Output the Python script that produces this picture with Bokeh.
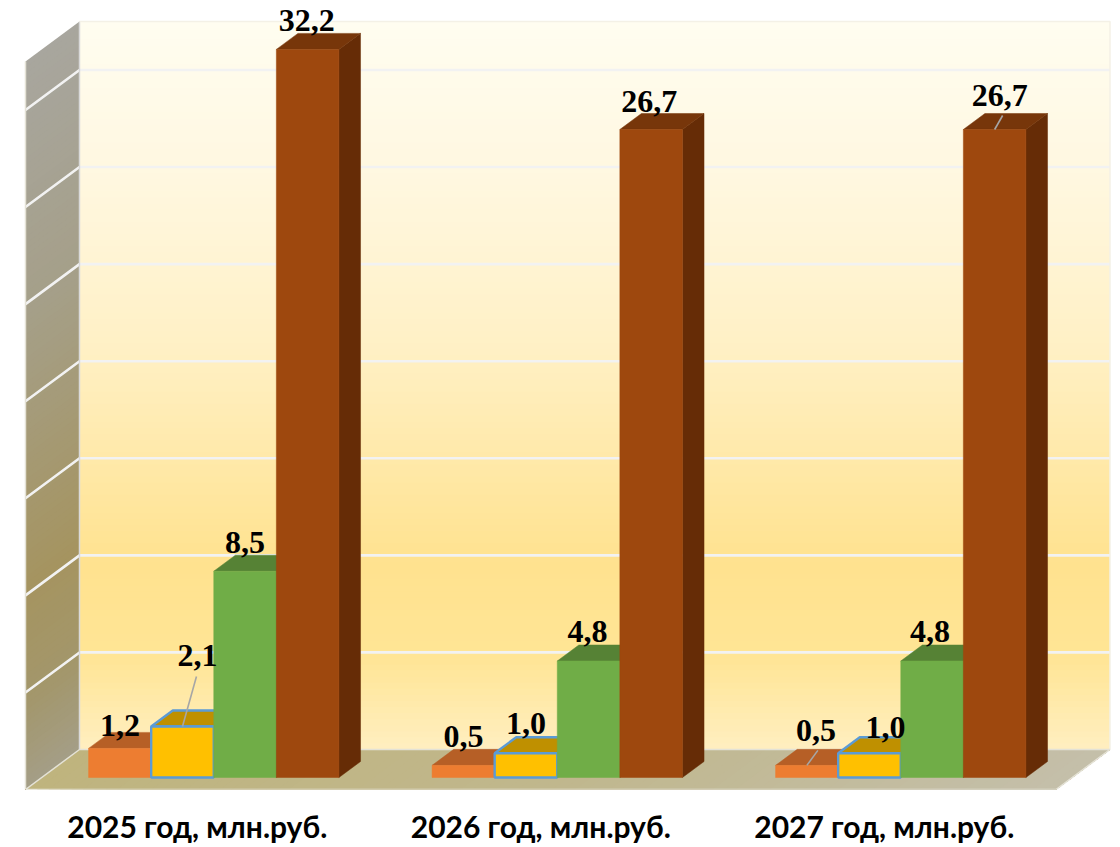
import numpy as np
from bokeh.plotting import figure
from bokeh.models import FixedTicker
from bokeh.core.properties import value
from bokeh.embed import file_html
from bokeh.resources import INLINE

# ---- data ----
categories = ["2025 год, млн.руб.", "2026 год, млн.руб.", "2027 год, млн.руб."]
series_a = [1.2, 0.5, 0.5]
series_b = [2.1, 1.0, 1.0]
series_c = [8.5, 4.8, 4.8]
series_d = [32.2, 26.7, 26.7]
axis_max = 30
grid_values = [4, 8, 12, 16, 20, 24, 28]

# ---- style ----
series_style = [
    (series_a, "#ED7D31", "#B65F26", "#8F4A1D", None),
    (series_b, "#FFC000", "#BF9000", "#8F6C00", "#5B9BD5"),
    (series_c, "#70AD47", "#568235", "#426328", None),
    (series_d, "#9E480E", "#77360A", "#662C06", None),
]
# label offsets in px from the centre of a bar's front top edge, by series then category
label_dx = [[0, 0, 9], [15, 0, 16], [0, -1, -2], [-1, -2, 5]]
label_dy = [[-23, -29, -35], [-71, -30, -26], [-29, -30, -30], [-29, -28, -34]]
# leader lines: (series, category, from-dx, from-dy) in px from the same anchor
leaders = [(1, 0, 14, -50), (0, 2, 11, -15), (3, 2, 8, -14)]

# ---- geometry of the oblique view ----
PX_X = 343.5          # px per category
PX_Y = 24.27          # px per unit of value
DEPTH_X, DEPTH_Y = 54, 40
LEFT, FLOOR = 25, 789
W, H, BOTTOM = 1120, 847, 58
BAR_W = 0.1822
BAR_M = 0.1365
D0, D1 = 0.3, 0.7


def P(x, v, d=0.0):
    return x + d * DEPTH_X / PX_X, v + d * DEPTH_Y / PX_Y


n = len(categories)
p = figure(width=W, height=H, output_backend="svg", toolbar_location=None,
           x_range=(-LEFT / PX_X, (W - LEFT) / PX_X),
           y_range=((FLOOR - (H - BOTTOM)) / PX_Y, FLOOR / PX_Y),
           min_border=0, min_border_bottom=BOTTOM, outline_line_color=None,
           background_fill_color="white", border_fill_color="white")
p.grid.visible = False
p.yaxis.visible = False
ax = p.xaxis[0]
ax.ticker = FixedTicker(ticks=[i + 0.5 for i in range(n)])
ax.major_label_overrides = {i + 0.5: c for i, c in enumerate(categories)}
ax.axis_line_color = None
ax.major_tick_line_color = None
ax.minor_tick_line_color = None
ax.major_tick_out = 0
ax.major_tick_in = 0
ax.major_label_text_font = "Lato"
ax.major_label_text_font_style = "bold"
ax.major_label_text_font_size = "30px"
ax.major_label_text_color = "black"
ax.major_label_standoff = 18


def hexrgb(s):
    return [int(s[i:i + 2], 16) for i in (1, 3, 5)]


def ramp(t, stops, cols):
    c = np.array([hexrgb(k) for k in cols], float)
    rgb = [int(round(np.interp(t, stops, c[:, j]))) for j in range(3)]
    return "#%02x%02x%02x" % tuple(rgb)


# back wall (painted top down, each band reaching the floor so no seams show)
for v in np.linspace(axis_max, 0, 121):
    t = (axis_max - v) / axis_max
    col = ramp(t, [0, 0.22, 0.45, 0.74, 0.87, 1.0],
               ["#FFFDF0", "#FFF7DF", "#FFF0C4", "#FFE28F", "#FFE595", "#FFEFC2"])
    x0, y0 = P(0, v, 1)
    x1, y1 = P(n, 0, 1)
    p.quad(left=x0, right=x1, top=y0, bottom=y1, fill_color=col, line_color=None)

# left wall
for v in np.linspace(axis_max, 0, 121):
    t = (axis_max - v) / axis_max
    col = ramp(t, [0, 0.35, 0.72, 0.88, 1.0],
               ["#A8A69E", "#A59F88", "#A59460", "#A3976C", "#A49E88"])
    a = P(0, v, 0)
    b = P(0, v, 1)
    c = P(0, 0, 1)
    d = P(0, 0, 0)
    p.patch([a[0], b[0], c[0], d[0]], [a[1], b[1], c[1], d[1]],
            fill_color=col, line_color=None)

# floor
for x in np.linspace(0, n, 91):
    col = ramp(x / n, [0, 0.5, 1.0], ["#BFB47E", "#C0B78D", "#C4BFAA"])
    a = P(x, 0, 0)
    b = P(x, 0, 1)
    c = P(n, 0, 1)
    d = P(n, 0, 0)
    p.patch([a[0], b[0], c[0], d[0]], [a[1], b[1], c[1], d[1]],
            fill_color=col, line_color=None)

# grid lines on the walls
for v in grid_values:
    a = P(0, v, 0)
    b = P(0, v, 1)
    c = P(n, v, 1)
    p.line([a[0], b[0], c[0]], [a[1], b[1], c[1]], line_color="#F2F2F2", line_width=2.6)
# wall and floor edges
a, b, c = P(0, axis_max, 0), P(0, axis_max, 1), P(n, axis_max, 1)
d, e, f = P(0, 0, 0), P(0, 0, 1), P(n, 0, 1)
g = P(n, 0, 0)
p.line([b[0], e[0]], [b[1], e[1]], line_color="#D9D9D9", line_width=1.5)
p.line([b[0], c[0], f[0]], [b[1], c[1], f[1]], line_color="#F4F1E6", line_width=1.5)
p.line([a[0], d[0], e[0], f[0], g[0], d[0]], [a[1], d[1], e[1], f[1], g[1], d[1]],
       line_color="#E4E2D6", line_width=1.5)

# bars: left to right inside each group so the next bar covers the previous side
anchors = {}
for i in range(n):
    for s, (vals, front, top, side, edge) in enumerate(series_style):
        v = min(vals[i], axis_max)
        x0 = i + BAR_M + s * BAR_W
        x1 = x0 + BAR_W
        fr = [P(x0, v, D0), P(x1, v, D0), P(x1, 0, D0), P(x0, 0, D0)]
        tp = [P(x0, v, D0), P(x0, v, D1), P(x1, v, D1), P(x1, v, D0)]
        sd = [P(x1, v, D0), P(x1, v, D1), P(x1, 0, D1), P(x1, 0, D0)]
        for poly, col in ((sd, side), (tp, top), (fr, front)):
            lc = edge if edge and poly is not sd else col
            lw = 2.4 if edge and poly is not sd else 0.5
            p.patch([q[0] for q in poly], [q[1] for q in poly],
                    fill_color=col, line_color=lc, line_width=lw)
        anchors[(s, i)] = P((x0 + x1) / 2, v, D0)

# leader lines
for s, i, dx, dy in leaders:
    ax0, ay0 = anchors[(s, i)]
    p.line([ax0, ax0 + dx / PX_X], [ay0, ay0 - dy / PX_Y],
           line_color="#A6A6A6", line_width=1.6)

# data labels
for s, (vals, *_rest) in enumerate(series_style):
    for i in range(n):
        ax0, ay0 = anchors[(s, i)]
        p.text(x=[ax0], y=[ay0], text=[f"{vals[i]:.1f}".replace(".", ",")],
               x_offset=label_dx[s][i], y_offset=label_dy[s][i],
               text_align="center", text_baseline="middle",
               text_font=value("Liberation Serif"), text_font_style="bold",
               text_font_size="32px", text_color="black")

open("out.html", "w").write(file_html(p, INLINE))
